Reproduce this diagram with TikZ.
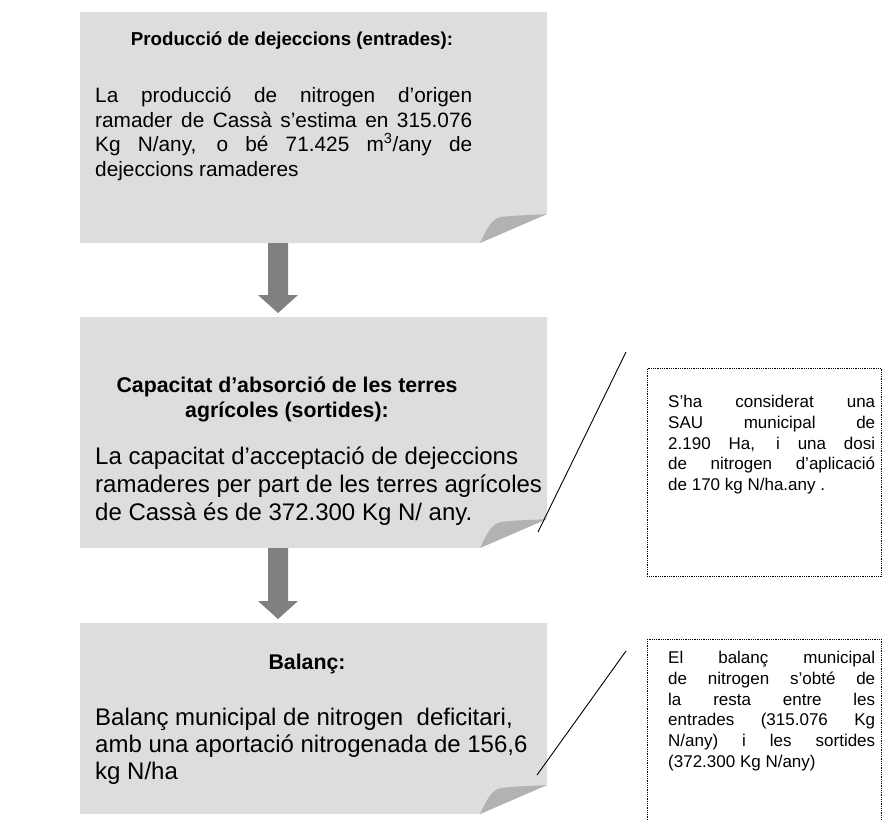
\documentclass[tikz,border=0pt]{standalone}
\usepackage{fontspec}
\setmainfont{Liberation Sans}
\usetikzlibrary{calc}
\definecolor{boxgray}{HTML}{DDDDDD}
\definecolor{foldgray}{HTML}{B2B2B2}
\definecolor{arrowgray}{HTML}{808080}
\tikzset{
    BX/.style ={rectangle,inner sep=0pt,outer sep=0pt,minimum width=467pt},
    TT/.style ={anchor=north,inner sep=0pt,align=center,font=\fontsize{#1}{25}\selectfont\bfseries},
    BD/.style 2 args ={anchor=north west,inner sep=0pt,font=\fontsize{#1}{#2}\selectfont},
    CB/.style ={rectangle,draw=black,densely dotted,line width=0.8pt,inner sep=0pt,anchor=north west,minimum width=234pt},
    CT/.style ={anchor=north west,inner sep=0pt,text width=207pt,align=justify,font=\fontsize{17}{20.8}\selectfont},
    CL/.style ={line width=0.9pt}}
% grey box with the corner turned up
\newcommand{\foldedbox}[1]{%
    \fill[boxgray] (#1.north west) -- (#1.north east) -- ($(#1.south east)+(0,-29)$)
        -- ($(#1.south east)+(-67,0)$) -- (#1.south west) -- cycle;
    \fill[foldgray] ($(#1.south east)+(-67,0)$) .. controls ($(#1.south east)+(-60,-14)$) and ($(#1.south east)+(-56,-24)$) .. ($(#1.south east)+(-46,-26)$)
        .. controls ($(#1.south east)+(-30,-28)$) and ($(#1.south east)+(-12,-28)$) .. ($(#1.south east)+(0,-29)$) -- cycle;}
% thick grey arrow between two boxes
\newcommand{\flowarrow}[2]{%
    \path ($(#1.south west)+(198,0)$) coordinate (#1top)
          ($(#1top |- #2.north)+(0,-4)$) coordinate (#1tip);
    \fill[arrowgray] ($(#1top)+(-10,0)$) -- ($(#1tip)+(-10,-18)$) -- ($(#1tip)+(-20,-18)$) -- (#1tip)
        -- ($(#1tip)+(20,-18)$) -- ($(#1tip)+(10,-18)$) -- ($(#1top)+(10,0)$) -- cycle;}

\begin{document}
\begin{tikzpicture}[x=1pt,y=-1pt]
    \path[use as bounding box] (0,0) rectangle (882,819);
    \clip (0,0) rectangle (882,819);
    % the three boxes
    \node[BX,minimum height=231pt] (prod) at (313.5,127.5) {};
    \node[BX,minimum height=231pt] (capac) at (313.5,432.5) {};
    \node[BX,minimum height=191pt] (balanc) at (313.5,718.5) {};
    \foldedbox{prod}
    \foldedbox{capac}
    \foldedbox{balanc}
    \flowarrow{prod}{capac}
    \flowarrow{capac}{balanc}

    \node[TT=18.7] (prodtitle) at (292,32) {Producció de dejeccions (entrades):};
    \node[BD={20.8}{24.5},text width=377pt,align=justify] (prodtext) at (95,87)
        {La producció de nitrogen d’origen\linebreak ramader de Cassà s’estima en 315.076\linebreak
         Kg N/any, o bé 71.425 m\textsuperscript{3}/any de\linebreak dejeccions ramaderes};

    \node[TT=21.3] (capactitle) at (287,377) {Capacitat d’absorció de les terres\\agrícoles (sortides):};
    \node[BD={24}{27.6},align=left] (capactext) at (95,447)
        {La capacitat d’acceptació de dejeccions\\ramaderes per part de les terres agrícoles\\de Cassà és de 372.300 Kg N/ any.};

    \node[TT=21.3] (balanctitle) at (307,654) {Balanç:};
    \node[BD={24}{27},align=left] (balanctext) at (95,708)
        {Balanç municipal de nitrogen\ \ deficitari,\\amb una aportació nitrogenada de 156,6\\kg N/ha};

    % notes on the right
    \node[CB,minimum height=208pt] (nota1) at (647,368) {};
    \node[CT] (nota1text) at (668,395)
        {S’ha considerat una\linebreak SAU municipal de\linebreak 2.190 Ha, i una dosi\linebreak
         de nitrogen d’aplicació\linebreak de 170 kg N/ha.any .};
    \node[CB,minimum height=200pt] (nota2) at (647,639) {};
    \node[CT] (nota2text) at (668,651)
        {El balanç municipal\linebreak de nitrogen s’obté de\linebreak la resta entre les\linebreak
         entrades (315.076 Kg\linebreak N/any) i les sortides\linebreak (372.300 Kg N/any)};

    \coordinate (n1a) at (626,352);
    \coordinate (n1b) at (538,532);
    \coordinate (n2a) at (626,651);
    \coordinate (n2b) at (537,775);
    \draw[CL] (n1a) -- (n1b);
    \draw[CL] (n2a) -- (n2b);
\end{tikzpicture}
\end{document}
